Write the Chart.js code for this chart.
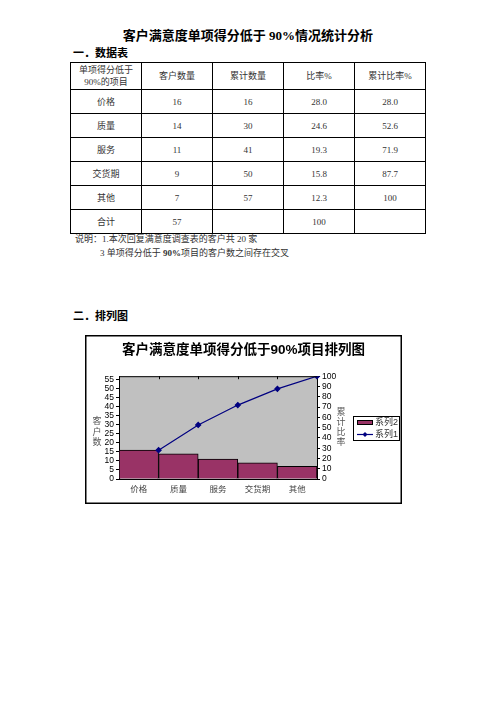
<!DOCTYPE html>
<html>
<head>
<meta charset="utf-8">
<script src="https://cdn.jsdelivr.net/npm/chart.js@4.4.0/dist/chart.umd.min.js"></script>
<style>
  body { margin: 0; background: #fff; }
  #page { position: relative; width: 496px; height: 702px; background: #fff;
          font-family: "Liberation Serif", "Noto Sans CJK SC", serif; color: #222; }
  .abs { position: absolute; white-space: nowrap; }
  #title { left: 0; width: 496px; top: 28px; line-height: 16px; text-align: center;
           font-size: 13px; font-weight: bold; color: #000; }
  .head { left: 73px; font-size: 11px; line-height: 13px; font-weight: bold; color: #000; }
  .note { font-size: 9px; line-height: 12px; color: #333; }
  #tbl { position: absolute; left: 70px; top: 62px; width: 356px; border-collapse: collapse;
         table-layout: fixed; font-size: 9px; color: #333; }
  #tbl td { border: 1px solid #000; text-align: center; padding: 0; height: 23px; }
  #tbl tr.hdr td { height: 26px; line-height: 12px; }
  #wrap { position: absolute; left: 85px; top: 335px; width: 317px; height: 169px; }
</style>
</head>
<body>
<div id="page">
  <div id="title" class="abs">客户满意度单项得分低于 90%情况统计分析</div>
  <div class="abs head" style="top:47px">一．数据表</div>
  <table id="tbl"><tbody id="tbody"></tbody></table>
  <div class="abs note" style="left:75px;top:233px">说明：1.本次回复满意度调查表的客户共 20 家</div>
  <div class="abs note" style="left:100px;top:247px">3 单项得分低于 <b>90%</b>项目的客户数之间存在交叉</div>
  <div class="abs head" style="top:310px">二．排列图</div>
  <div id="wrap"><canvas id="pareto" width="317" height="169" style="width:317px;height:169px"></canvas></div>
</div>
<script>
const categories = ['价格', '质量', '服务', '交货期', '其他'];
const customerCounts = [16, 14, 11, 9, 7];
const cumulativeCounts = [16, 30, 41, 50, 57];
const ratePct = [28.0, 24.6, 19.3, 15.8, 12.3];
const cumulativePct = [28.0, 52.6, 71.9, 87.7, 100];
const totalCount = 57;
const totalPct = 100;
const headers = ['单项得分低于<br>90%的项目', '客户数量', '累计数量', '比率%', '累计比率%'];

// data table
const fmt = v => (v === 100 ? '100' : v.toFixed(1));
let rows = '<tr class="hdr">' + headers.map(h => '<td>' + h + '</td>').join('') + '</tr>';
categories.forEach((c, i) => {
  rows += '<tr><td>' + c + '</td><td>' + customerCounts[i] + '</td><td>' + cumulativeCounts[i] +
    '</td><td>' + fmt(ratePct[i]) + '</td><td>' + fmt(cumulativePct[i]) + '</td></tr>';
});
rows += '<tr><td>合计</td><td>' + totalCount + '</td><td></td><td>' + totalPct + '</td><td></td></tr>';
document.getElementById('tbody').innerHTML = rows;

const tickFont = { family: 'Liberation Sans', size: 8.5 };

// gray plot area, frame, top edge, side titles and legend
const decor = {
  id: 'decor',
  beforeDraw(chart) {
    const { ctx, chartArea: a, width, height } = chart;
    ctx.save();
    ctx.fillStyle = '#fff';
    ctx.fillRect(0, 0, width, height);
    ctx.fillStyle = '#c0c0c0';
    ctx.fillRect(a.left, a.top, a.right - a.left, a.bottom - a.top);
    ctx.restore();
  },
  afterDraw(chart) {
    const { ctx, chartArea: a, width, height } = chart;
    const x2 = chart.scales.x2;
    ctx.save();
    ctx.strokeStyle = '#000';
    ctx.lineWidth = 1.5;
    ctx.strokeRect(0.75, 0.75, width - 1.5, height - 1.5);

    ctx.lineWidth = 1;
    ctx.beginPath();
    ctx.moveTo(a.left, a.top + 0.5);
    ctx.lineTo(a.right, a.top + 0.5);
    for (let i = 1; i < categories.length; i++) {
      const px = Math.round(x2.getPixelForValue(i)) + 0.5;
      ctx.moveTo(px, a.top);
      ctx.lineTo(px, a.top + 3);
    }
    ctx.stroke();

    // axis titles, one character per line
    ctx.fillStyle = '#555';
    ctx.font = '9px "Noto Sans CJK SC"';
    ctx.textAlign = 'center';
    ctx.textBaseline = 'middle';
    ['客', '户', '数'].forEach((ch, i) => ctx.fillText(ch, 12, 86 + i * 10.5));
    ['累', '计', '比', '率'].forEach((ch, i) => ctx.fillText(ch, 256, 77 + i * 9.8));

    // legend
    const bar = chart.data.datasets[0], line = chart.data.datasets[1];
    ctx.strokeStyle = '#000';
    ctx.lineWidth = 1;
    ctx.strokeRect(268.5, 81.5, 46, 24);
    ctx.fillStyle = bar.backgroundColor;
    ctx.fillRect(272.5, 85.5, 15, 4);
    ctx.strokeRect(272.5, 85.5, 15, 4);
    ctx.strokeStyle = line.borderColor;
    ctx.lineWidth = 1.2;
    ctx.beginPath();
    ctx.moveTo(272, 99.5);
    ctx.lineTo(288, 99.5);
    ctx.stroke();
    ctx.fillStyle = line.borderColor;
    ctx.beginPath();
    ctx.moveTo(280, 97); ctx.lineTo(282.5, 99.5); ctx.lineTo(280, 102); ctx.lineTo(277.5, 99.5);
    ctx.closePath();
    ctx.fill();
    ctx.fillStyle = '#333';
    ctx.textAlign = 'left';
    ctx.font = '9px "Liberation Sans", "Noto Sans CJK SC"';
    ctx.fillText(bar.label, 290, 88);
    ctx.fillText(line.label, 290, 100);
    ctx.restore();
  }
};

const ctx = document.getElementById('pareto').getContext('2d');

new Chart(ctx, {
  type: 'bar',
  data: {
    labels: categories,
    datasets: [
      {
        type: 'bar',
        label: '系列2',
        data: customerCounts,
        xAxisID: 'x',
        yAxisID: 'y',
        backgroundColor: '#993366',
        borderColor: '#000',
        borderWidth: 1,
        barPercentage: 1,
        categoryPercentage: 1,
        grouped: false,
        order: 2
      },
      {
        type: 'line',
        label: '系列1',
        data: [null, ...cumulativePct],
        xAxisID: 'x2',
        yAxisID: 'y1',
        borderColor: '#000080',
        borderWidth: 1.2,
        pointStyle: 'rectRot',
        pointRadius: 2.5,
        pointBackgroundColor: '#000080',
        pointBorderColor: '#000080',
        tension: 0,
        order: 1
      }
    ]
  },
  options: {
    responsive: false,
    animation: false,
    layout: { padding: 0 },
    plugins: {
      legend: { display: false },
      tooltip: { enabled: false },
      title: {
        display: true,
        text: '客户满意度单项得分低于90%项目排列图',
        color: '#000',
        font: { family: '"Liberation Sans", "Noto Sans CJK SC"', size: 13.5, weight: 'bold' },
        padding: { top: 7, bottom: 18 }
      }
    },
    scales: {
      x: {
        offset: true,
        grid: { display: false, drawTicks: false },
        border: { color: '#000', width: 1 },
        ticks: { font: { family: 'Noto Sans CJK SC', size: 8.5 }, color: '#444', padding: 5, maxRotation: 0 },
        afterFit(s) { s.height = 25; }
      },
      x2: {
        type: 'category',
        labels: ['', ...categories],
        offset: false,
        display: false
      },
      y: {
        position: 'left',
        min: 0,
        max: totalCount,
        ticks: { stepSize: 5, includeBounds: false, autoSkip: false, font: tickFont, color: '#000', padding: 2 },
        grid: { drawOnChartArea: false, tickLength: 3, color: '#000' },
        border: { color: '#000' },
        afterFit(s) { s.width = 34; }
      },
      y1: {
        position: 'right',
        min: 0,
        max: 100,
        ticks: { stepSize: 10, autoSkip: false, font: tickFont, color: '#000', padding: 2 },
        grid: { drawOnChartArea: false, tickLength: 3, color: '#000' },
        border: { color: '#000' },
        afterFit(s) { s.width = 85; }
      }
    }
  },
  plugins: [decor]
});
</script>
</body>
</html>
